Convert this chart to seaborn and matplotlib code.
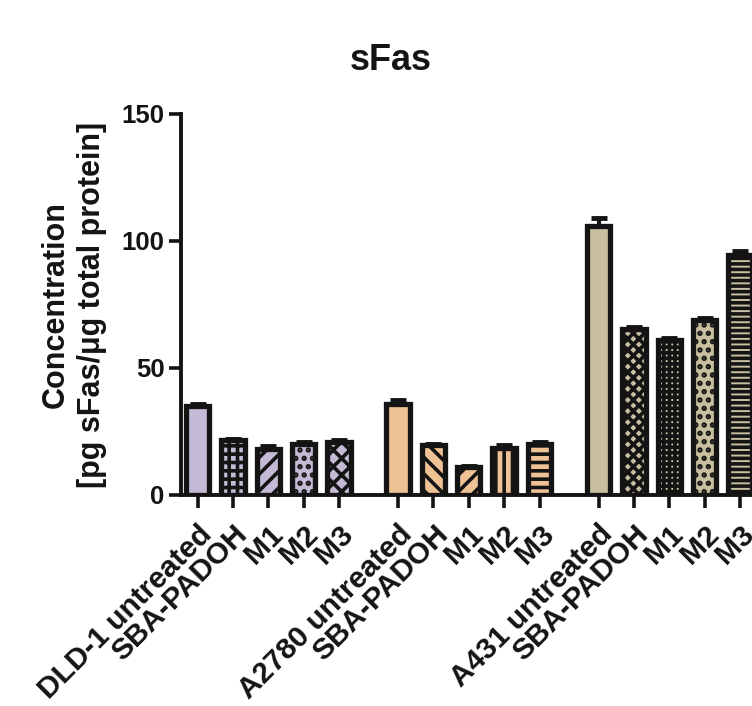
import numpy as np
import pandas as pd
import matplotlib
matplotlib.use("Agg")
import matplotlib.pyplot as plt
import seaborn as sns

# ---- data ----
cell_lines = ["DLD-1", "A2780", "A431"]
treatments = ["untreated", "SBA-PADOH", "M1", "M2", "M3"]
dld1_values = [35.0, 21.5, 18.0, 20.0, 21.0]
dld1_errors = [1.0, 0.6, 1.2, 0.8, 0.8]
a2780_values = [36.0, 19.5, 11.0, 18.5, 20.0]
a2780_errors = [1.2, 0.5, 0.6, 1.2, 0.8]
a431_values = [106.0, 65.5, 61.0, 69.0, 94.5]
a431_errors = [3.0, 0.6, 0.8, 0.6, 1.5]
tick_labels = ["DLD-1 untreated", "SBA-PADOH", "M1", "M2", "M3",
               "A2780 untreated", "SBA-PADOH", "M1", "M2", "M3",
               "A431 untreated", "SBA-PADOH", "M1", "M2", "M3"]
colors = {"DLD-1": "#C3B6D9", "A2780": "#FEC286", "A431": "#CEC39B"}
hatches = ["", "++", "//", "..", "xx",
           "", "\\\\", "//", "||", "--",
           "", "xxx", "+++", "..", "---"]

INK = "#141414"
sns.set_theme(style="white")
plt.rcParams["font.family"] = ["Liberation Sans", "DejaVu Sans"]
plt.rcParams["font.weight"] = "bold"
plt.rcParams["text.color"] = INK
plt.rcParams["axes.labelcolor"] = INK
plt.rcParams["xtick.color"] = INK
plt.rcParams["ytick.color"] = INK
plt.rcParams["hatch.linewidth"] = 2.6
plt.rcParams["hatch.color"] = INK

all_vals = [dld1_values, a2780_values, a431_values]
all_errs = [dld1_errors, a2780_errors, a431_errors]
group_gap = 0.67
rows = []
for gi, line in enumerate(cell_lines):
    for bi, tr in enumerate(treatments):
        rows.append({"line": line, "treatment": tr,
                     "pos": gi * (len(treatments) + group_gap) + bi,
                     "value": all_vals[gi][bi], "err": all_errs[gi][bi]})
df = pd.DataFrame(rows)

fig = plt.figure(figsize=(7.52, 7.06), dpi=100)
ax = fig.add_axes([0.2407, 0.2989, 0.7593, 0.5397])

# error bars (upper only) drawn behind bars
ax.errorbar(df["pos"], df["value"], yerr=[np.zeros(len(df)), df["err"]],
            fmt="none", ecolor=INK, elinewidth=3, capsize=5.5,
            capthick=3.5, zorder=1)

sns.barplot(data=df, x="pos", y="value", hue="line", palette=colors,
            native_scale=True, width=0.66, dodge=False, errorbar=None,
            edgecolor=INK, linewidth=3.8, legend=False, ax=ax, zorder=2)

bars = sorted(ax.patches, key=lambda p: p.get_x())
for p, h in zip(bars, hatches):
    p.set_hatch(h)
    p.set_zorder(2)

first = df["pos"].min()
last = df["pos"].max()
ax.set_xlim(first - 0.47, last + 0.34)
ax.set_ylim(0, 150)
ax.set_yticks([0, 50, 100, 150])
ax.set_xticks(df["pos"])
ax.set_xticklabels(tick_labels, rotation=45, ha="right", va="top",
                   rotation_mode="anchor", fontsize=21.5, fontweight="bold")
ax.tick_params(axis="y", labelsize=18.5, length=9, width=2.6, direction="out",
               left=True, pad=3)
ax.tick_params(axis="x", length=9, width=2.6, direction="out", bottom=True,
               pad=9)
for lbl in ax.get_yticklabels():
    lbl.set_fontweight("bold")

sns.despine(ax=ax, top=True, right=True)
for s in ["left", "bottom"]:
    ax.spines[s].set_linewidth(2.8)
    ax.spines[s].set_color(INK)
ax.spines["left"].set_bounds(0, 150)

ax.set_xlabel("")
ax.set_ylabel("Concentration\n[pg sFas/\u03bcg total protein]", fontsize=22,
              fontweight="bold", labelpad=10, linespacing=1.3)
fig.text(0.52, 0.915, "sFas", ha="center", va="center", fontsize=26,
         fontweight="bold")

fig.savefig("out.png", dpi=100, facecolor="white")
